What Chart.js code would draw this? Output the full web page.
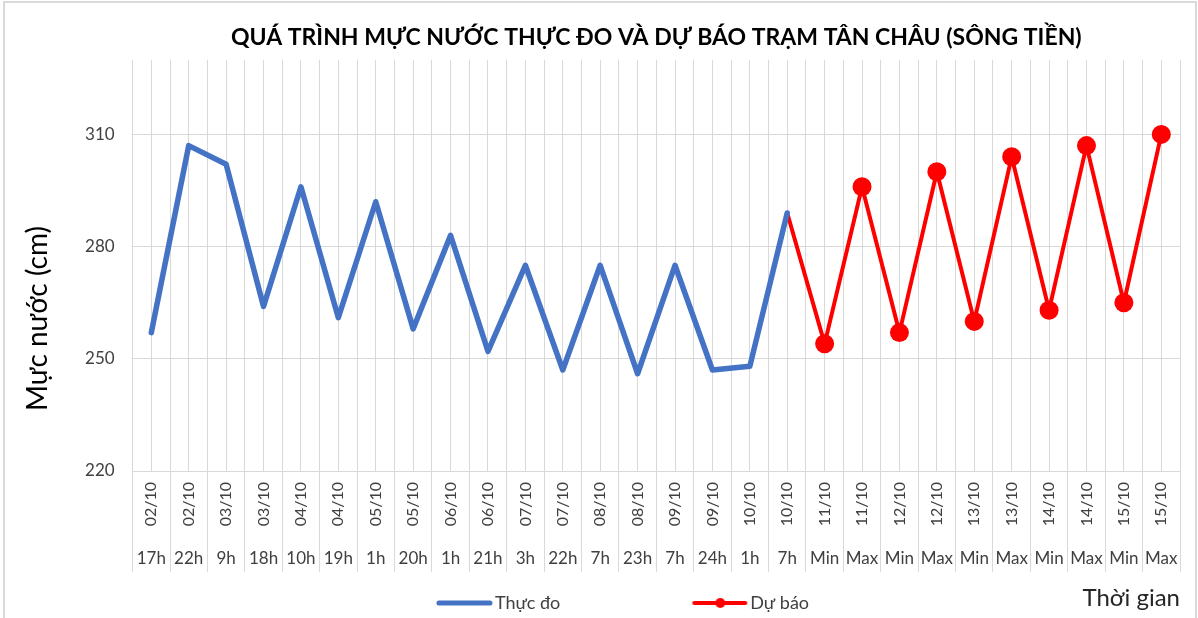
<!DOCTYPE html>
<html>
<head>
<meta charset="utf-8">
<script src="https://cdn.jsdelivr.net/npm/chart.js@4.4.1/dist/chart.umd.min.js"></script>
<style>
  html, body { margin: 0; padding: 0; background: #fff; }
  #frame { position: absolute; left: 3px; top: 1px; width: 1194px; height: 640px; border: 2px solid #d9d9d9; box-sizing: border-box; }
  #chart_box { position: absolute; left: 0; top: 0; width: 1198px; height: 618px; }
</style>
</head>
<body>
<div id="frame"></div>
<div id="chart_box"><canvas id="level_chart"></canvas></div>
<script>
const dateLabels = ['02/10', '02/10', '03/10', '03/10', '04/10', '04/10', '05/10', '05/10', '06/10', '06/10',
    '07/10', '07/10', '08/10', '08/10', '09/10', '09/10', '10/10', '10/10', '11/10', '11/10',
    '12/10', '12/10', '13/10', '13/10', '14/10', '14/10', '15/10', '15/10'];
const hourLabels = ['17h', '22h', '9h', '18h', '10h', '19h', '1h', '20h', '1h', '21h',
    '3h', '22h', '7h', '23h', '7h', '24h', '1h', '7h', 'Min', 'Max',
    'Min', 'Max', 'Min', 'Max', 'Min', 'Max', 'Min', 'Max'];

// water level (cm)
const measured = [257, 307, 302, 264, 296, 261, 292, 258, 283, 252, 275, 247, 275, 246, 275, 247, 248, 289];
const forecast = [289, 254, 296, 257, 300, 260, 304, 263, 307, 265, 310];
const forecastStart = 17;   // forecast line starts at the last measured point

const yTicks = [220, 250, 280, 310];
const yMin = 220;
const yMax = 330;

const blue = '#4472C4';
const red = '#FF0000';
const iconBox = 171;

// legend symbols: line (and dot) sitting at the right end of the legend box
function makeIcon(color, width, dot) {
    const c = document.createElement('canvas');
    c.width = iconBox + 14;
    c.height = 14;
    const g = c.getContext('2d');
    g.strokeStyle = color;
    g.lineWidth = width;
    g.lineCap = 'round';
    g.beginPath();
    g.moveTo(c.width - 54, 7);
    g.lineTo(c.width - 3, 7);
    g.stroke();
    if (dot) {
        g.fillStyle = color;
        g.beginPath();
        g.arc(c.width - 28, 7, 5, 0, Math.PI * 2);
        g.fill();
    }
    return c;
}

const legendIcons = [makeIcon(blue, 5, false), makeIcon(red, 4, true)];

function buildChart() {
    const forecastSeries = new Array(forecastStart).fill(null).concat(forecast);
    const ctx = document.getElementById('level_chart').getContext('2d');

    Chart.defaults.font.family = 'Lato, "Open Sans", sans-serif';

    return new Chart(ctx, {
        type: 'line',
        data: {
            labels: dateLabels,
            datasets: [{
                label: 'Thực đo',
                data: measured,
                borderColor: blue,
                backgroundColor: blue,
                borderWidth: 5.5,
                pointRadius: 0,
                borderJoinStyle: 'round',
                borderCapStyle: 'round'
            }, {
                label: 'Dự báo',
                data: forecastSeries,
                borderColor: red,
                backgroundColor: red,
                borderWidth: 4,
                pointRadius: c => c.dataIndex > forecastStart ? 9.5 : 0,
                pointBorderWidth: 0,
                borderJoinStyle: 'round',
                borderCapStyle: 'round'
            }]
        },
        options: {
            responsive: true,
            maintainAspectRatio: false,
            animation: false,
            layout: { padding: { left: -56, right: 18, top: 15, bottom: -4 } },
            plugins: {
                title: {
                    display: true,
                    fullSize: false,
                    text: 'QUÁ TRÌNH MỰC NƯỚC THỰC ĐO VÀ DỰ BÁO TRẠM TÂN CHÂU (SÔNG TIỀN)',
                    color: '#000',
                    font: { size: 23, weight: 'bold' },
                    padding: { top: 9, bottom: 8 }
                },
                // value-axis title, centred over the plot plus the category rows
                subtitle: {
                    display: true,
                    position: 'left',
                    fullSize: true,
                    text: 'Mực nước (cm)',
                    color: '#000',
                    font: { size: 28 },
                    padding: { top: 77, bottom: 0 }
                },
                legend: {
                    position: 'bottom',
                    labels: {
                        usePointStyle: true,
                        pointStyleWidth: iconBox,
                        padding: 10,
                        color: '#404040',
                        font: { size: 18 },
                        generateLabels: chart => chart.data.datasets.map((ds, i) => ({
                            text: ds.label,
                            pointStyle: legendIcons[i],
                            fillStyle: ds.borderColor,
                            strokeStyle: ds.borderColor,
                            lineWidth: 0,
                            fontColor: '#404040',
                            hidden: false,
                            datasetIndex: i
                        }))
                    }
                },
                tooltip: { enabled: false }
            },
            scales: {
                y: {
                    min: yMin,
                    max: yMax,
                    afterBuildTicks: s => { s.ticks = yTicks.map(v => ({ value: v })); },
                    afterFit: s => { s.width = 78; },
                    border: { display: false },
                    grid: { color: '#d9d9d9', drawTicks: false },
                    ticks: { padding: 18, color: '#404040', font: { size: 17 } }
                },
                x: {
                    offset: true,
                    afterFit: s => { s.height = 57; },
                    border: { display: false },
                    grid: { offset: true, color: '#d9d9d9', tickLength: 57 },
                    ticks: { autoSkip: false, minRotation: 90, maxRotation: 90, padding: -46, color: '#404040', font: { size: 16 } }
                },
                xHour: {
                    type: 'category',
                    labels: hourLabels,
                    position: 'bottom',
                    offset: true,
                    afterFit: s => { s.height = 56; },
                    border: { display: false },
                    grid: { offset: true, drawOnChartArea: false, color: '#d9d9d9', tickLength: 44 },
                    ticks: { autoSkip: false, maxRotation: 0, padding: -24, color: '#404040', font: { size: 17 } },
                    title: {
                        display: true,
                        text: 'Thời gian',
                        align: 'end',
                        color: '#262626',
                        font: { size: 24 },
                        padding: { top: 0, bottom: -29 }
                    }
                },
                xMid: {
                    type: 'category',
                    labels: dateLabels,
                    position: 'top',
                    offset: true,
                    border: { display: false },
                    grid: { offset: false, color: '#d9d9d9', drawTicks: false },
                    ticks: { display: false }
                }
            }
        }
    });
}

let levelChart;

document.addEventListener('DOMContentLoaded', () => {
    levelChart = buildChart();
});
</script>
</body>
</html>
